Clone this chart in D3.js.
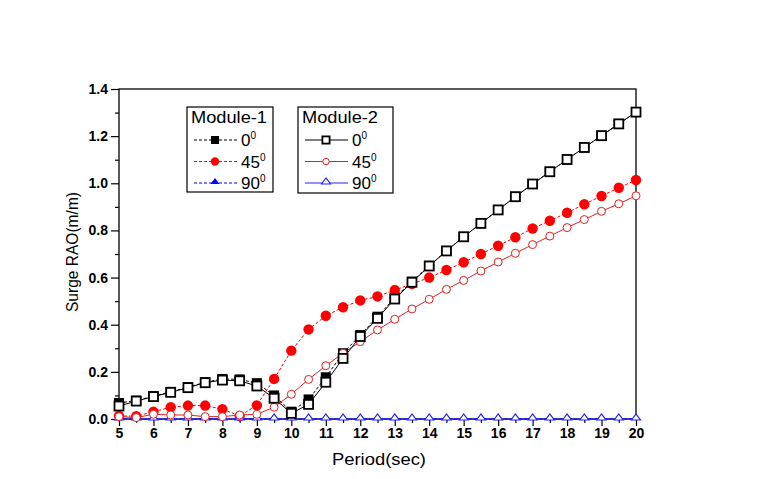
<!DOCTYPE html>
<html><head><meta charset="utf-8">
<script src="https://cdn.jsdelivr.net/npm/d3@7"></script>
<style>
body{margin:0;background:#fff;}
svg{display:block;}
text{font-family:"Liberation Sans",Arial,sans-serif;}
</style></head>
<body>
<svg id="c" width="769" height="479"></svg>
<script>
const periods = d3.range(5, 20.001, 0.5);
const m1_0 = [0.068,0.078,0.097,0.115,0.135,0.156,0.170,0.168,0.152,0.100,0.031,0.083,0.177,0.279,0.356,0.434,0.515,0.583,0.650,0.713,0.773,0.830,0.887,0.943,0.997,1.049,1.101,1.152,1.202,1.252,1.302];
const m2_0 = [0.055,0.076,0.095,0.113,0.133,0.154,0.165,0.162,0.140,0.088,0.024,0.062,0.156,0.257,0.350,0.427,0.509,0.580,0.649,0.713,0.773,0.830,0.887,0.943,0.997,1.049,1.101,1.152,1.202,1.252,1.302];
const m1_45 = [0.013,0.012,0.031,0.050,0.057,0.057,0.042,0.013,0.058,0.170,0.290,0.380,0.438,0.474,0.503,0.520,0.547,0.573,0.600,0.632,0.665,0.700,0.735,0.771,0.808,0.841,0.875,0.911,0.946,0.981,1.014];
const m2_45 = [0.010,0.006,0.020,0.017,0.017,0.010,0.010,0.017,0.020,0.050,0.105,0.168,0.226,0.279,0.328,0.378,0.423,0.467,0.508,0.550,0.588,0.628,0.666,0.703,0.740,0.776,0.812,0.846,0.881,0.913,0.947];
const m1_90 = periods.map(() => 0);
const m2_90 = periods.map(() => 0);
const xTicks = d3.range(5, 21, 1);
const yTicks = [0, 0.2, 0.4, 0.6, 0.8, 1.0, 1.2, 1.4];
const xLabel = "Period(sec)";
const yLabel = "Surge RAO(m/m)";

const svg = d3.select("#c");
const L = 119, R = 636, T = 89, B = 419;
const x = d3.scaleLinear().domain([5, 20]).range([L, R]);
const y = d3.scaleLinear().domain([0, 1.4]).range([B, T]);

// frame
svg.append("rect").attr("x", L).attr("y", T).attr("width", R - L).attr("height", B - T)
  .attr("fill", "none").attr("stroke", "#000").attr("stroke-width", 1.3);

// y axis
svg.append("g").attr("transform", `translate(${L},0)`)
  .call(d3.axisLeft(y).tickValues(yTicks).tickFormat(d3.format(".1f")).tickSize(8).tickPadding(3));
svg.append("g").attr("transform", `translate(${L},0)`)
  .call(d3.axisLeft(y).tickValues(d3.range(0.1, 1.4, 0.2)).tickFormat("").tickSize(4));
// x axis
svg.append("g").attr("transform", `translate(0,${B})`)
  .call(d3.axisBottom(x).tickValues(xTicks).tickFormat(d3.format("d")).tickSize(7).tickPadding(2));
svg.append("g").attr("transform", `translate(0,${B})`)
  .call(d3.axisBottom(x).tickValues(d3.range(5.5, 20, 1)).tickFormat("").tickSize(4));
svg.selectAll(".domain").remove();
svg.selectAll(".tick line").attr("stroke", "#000").attr("stroke-width", 1.2);
svg.selectAll(".tick text").attr("fill", "#000").style("font-size", "14px").style("font-weight", "bold")
  .style("font-family", "'Liberation Sans',Arial,sans-serif");

svg.append("text").attr("x", 379).attr("y", 465).attr("text-anchor", "middle")
  .style("font-size", "17px").attr("textLength", 94).attr("lengthAdjust", "spacingAndGlyphs").text(xLabel);
svg.append("text").attr("transform", "translate(78,252) rotate(-90)").attr("text-anchor", "middle")
  .style("font-size", "17px").attr("textLength", 120).attr("lengthAdjust", "spacingAndGlyphs").text(yLabel);

const line = d3.line().x((d, i) => x(periods[i])).y(d => y(d));

function tri(cx, cy) {
  return `M${cx - 4.5},${cy + 1}L${cx},${cy - 5}L${cx + 4.5},${cy + 1}Z`;
}

const series = [
  {v: m1_90, color: "#0000ff", dash: "3,2", marker: "triF"},
  {v: m1_0, color: "#000", dash: "3,2", marker: "sqF"},
  {v: m1_45, color: "#ff0000", dash: "3,2", marker: "cirF"},
  {v: m2_90, color: "#2020ff", dash: null, marker: "triO"},
  {v: m2_45, color: "#e02020", dash: null, marker: "cirO"},
  {v: m2_0, color: "#000", dash: null, marker: "sqO"}
];

function drawMarker(g, type, cx, cy, color, scale) {
  scale = scale || 1;
  if (type === "sqF") g.append("rect").attr("x", cx - 5 * scale).attr("y", cy - 5 * scale).attr("width", 10 * scale).attr("height", 10 * scale).attr("fill", "#000");
  if (type === "sqO") g.append("rect").attr("x", cx - 4.5 * scale).attr("y", cy - 4.5 * scale).attr("width", 9 * scale).attr("height", 9 * scale).attr("fill", "#fff").attr("stroke", "#000").attr("stroke-width", 1.8);
  if (type === "cirF") g.append("circle").attr("cx", cx).attr("cy", cy).attr("r", 5.2 * scale).attr("fill", "#ff0000");
  if (type === "cirO") g.append("circle").attr("cx", cx).attr("cy", cy).attr("r", 4 * scale).attr("fill", "#fff").attr("stroke", "#e02020").attr("stroke-width", 1);
  if (type === "triF") g.append("path").attr("d", tri(cx, cy)).attr("fill", "#0000ff");
  if (type === "triO") g.append("path").attr("d", tri(cx, cy)).attr("fill", "#fff").attr("stroke", "#2020ff").attr("stroke-width", 1.2);
}

series.forEach(s => {
  svg.append("path").datum(s.v).attr("d", line).attr("fill", "none")
    .attr("stroke", s.color).attr("stroke-width", 1)
    .attr("stroke-dasharray", s.dash);
});
series.forEach(s => {
  const g = svg.append("g");
  s.v.forEach((d, i) => drawMarker(g, s.marker, x(periods[i]), y(d), s.color));
});

// legends
function legend(x0, y0, w, h, title, items) {
  const g = svg.append("g");
  g.append("rect").attr("x", x0).attr("y", y0).attr("width", w).attr("height", h)
    .attr("fill", "#fff").attr("stroke", "#000").attr("stroke-width", 1.2);
  g.append("text").attr("x", x0 + 4).attr("y", y0 + 16).style("font-size", "17px")
    .attr("textLength", 76).attr("lengthAdjust", "spacingAndGlyphs").text(title);
  items.forEach((it, k) => {
    const cy = y0 + 33 + k * 21.5;
    g.append("line").attr("x1", x0 + 7).attr("x2", x0 + 50).attr("y1", cy).attr("y2", cy)
      .attr("stroke", it.color).attr("stroke-width", 1).attr("stroke-dasharray", it.dash);
    drawMarker(g, it.marker, x0 + 28, cy, it.color, 0.8);
    const t = g.append("text").attr("x", x0 + 54).attr("y", cy + 6).style("font-size", "17px");
    t.append("tspan").text(it.label);
    t.append("tspan").attr("dy", -7).style("font-size", "10px").text("0");
  });
}
legend(187, 107, 86, 85, "Module-1", [
  {label: "0", color: "#000", dash: "3,2", marker: "sqF"},
  {label: "45", color: "#ff0000", dash: "3,2", marker: "cirF"},
  {label: "90", color: "#0000ff", dash: "3,2", marker: "triF"}
]);
legend(298, 107, 95, 86, "Module-2", [
  {label: "0", color: "#000", dash: null, marker: "sqO"},
  {label: "45", color: "#e02020", dash: null, marker: "cirO"},
  {label: "90", color: "#2020ff", dash: null, marker: "triO"}
]);
</script>
</body></html>
